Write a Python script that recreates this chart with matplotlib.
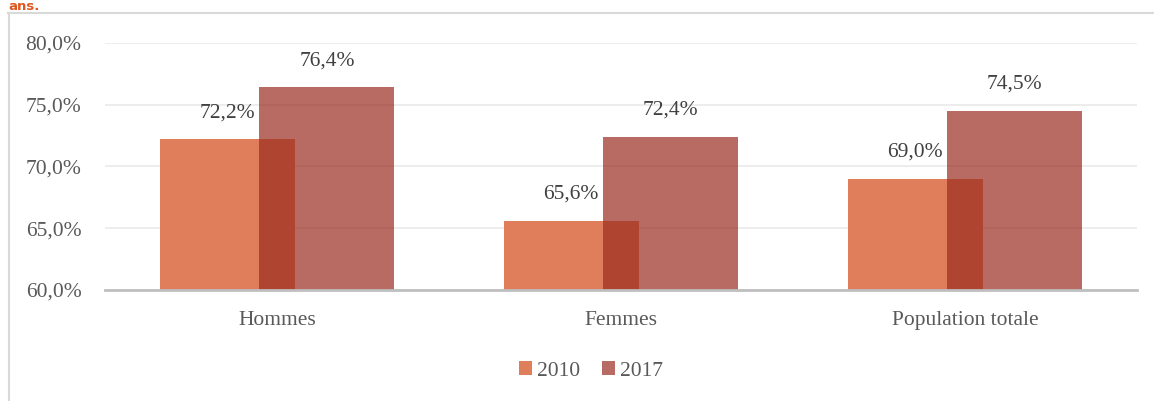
import matplotlib
matplotlib.use("Agg")
import matplotlib.pyplot as plt
from matplotlib.lines import Line2D
import numpy as np

categories = ["Hommes", "Femmes", "Population totale"]
years = ["2010", "2017"]
values_2010 = [72.2, 65.6, 69.0]
values_2017 = [76.4, 72.4, 74.5]
yticks = [60, 65, 70, 75, 80]

W, H = 1154, 401
fig = plt.figure(figsize=(W / 100, H / 100), dpi=100)
plt.rcParams['font.family'] = ['Liberation Serif', 'DejaVu Serif']

ax = fig.add_axes([105 / W, 1 - 290 / H, (1137 - 105) / W, (290 - 43) / H])

x = np.arange(len(categories))
width = 0.392
off = 0.145
c2010 = "#E07E5C"
c2017 = (155 / 255, 44 / 255, 31 / 255, 0.7)
FS = 15.5

b1 = ax.bar(x - off, values_2010, width, color=c2010, label=years[0], zorder=2)
b2 = ax.bar(x + off, values_2017, width, color=c2017, label=years[1], zorder=3)

ax.set_ylim(60, 80)
ax.set_xlim(-0.5, 2.5)
ax.set_yticks(yticks)
ax.set_yticklabels([f"{v:.1f}%".replace(".", ",") for v in yticks])
ax.set_xticks(x)
ax.set_xticklabels(categories)
ax.tick_params(axis='y', length=0, pad=17, labelsize=FS, labelcolor="#595959")
ax.tick_params(axis='x', length=0, pad=15, labelsize=FS, labelcolor="#595959")
ax.grid(axis='y', color="#ececec", linewidth=1.3, zorder=0)
ax.set_axisbelow(True)
for s in ["top", "right", "left"]:
    ax.spines[s].set_visible(False)
ax.spines["bottom"].set_color("#bfbfbf")
ax.spines["bottom"].set_linewidth(2)
ax.spines["bottom"].set_zorder(5)

for bars, vals in ((b1, values_2010), (b2, values_2017)):
    for rect, v in zip(bars, vals):
        ax.annotate(f"{v:.1f}%".replace(".", ","),
                    (rect.get_x() + rect.get_width() / 2, v),
                    xytext=(0, 19), textcoords="offset points",
                    ha="center", va="center", fontsize=FS, color="#404040",
                    annotation_clip=False)

leg = fig.legend(handles=[b1, b2], labels=years, loc="center",
                 bbox_to_anchor=(591 / W, 1 - 371 / H), ncol=2, frameon=False,
                 fontsize=FS, handlelength=0.6, handleheight=0.6,
                 handletextpad=0.25, columnspacing=1.0)
for t in leg.get_texts():
    t.set_color("#595959")

# outer frame
fig.add_artist(Line2D([8.5 / W, 8.5 / W], [0, 1 - 13 / H], transform=fig.transFigure,
                      color="#d9d9d9", linewidth=1.5))
fig.add_artist(Line2D([8 / W, 1], [1 - 13 / H, 1 - 13 / H], transform=fig.transFigure,
                      color="#d9d9d9", linewidth=1.5))

fig.text(8 / W, 1.0, "ans.", fontsize=9.5, fontweight="bold", color="#E0561E",
         family=["DejaVu Sans"], va="top", ha="left")

fig.savefig("out.png", dpi=100)
